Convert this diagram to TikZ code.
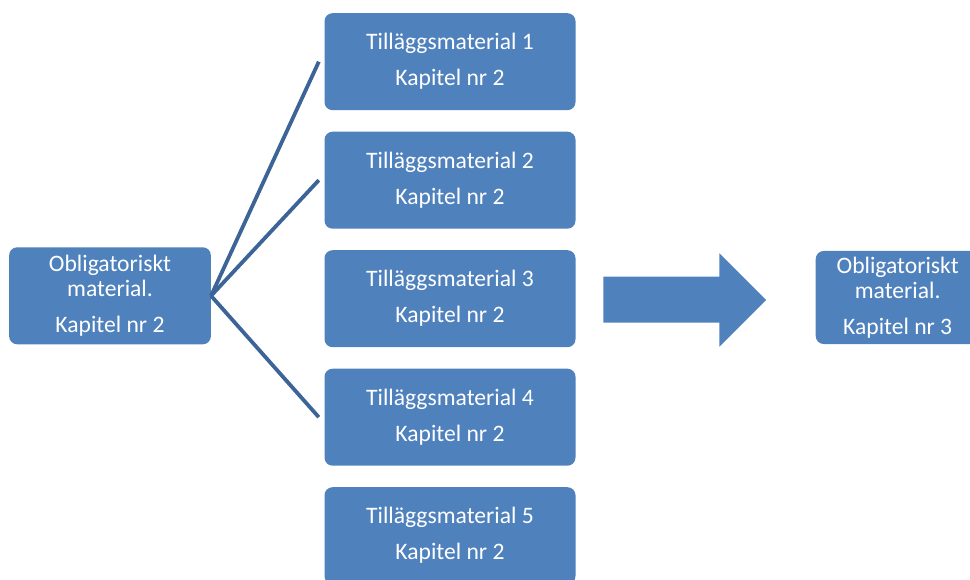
\documentclass[tikz,border=0pt]{standalone}
\usepackage{fontspec}
\setmainfont{Carlito}
\definecolor{boxblue}{RGB}{79,129,189}
\definecolor{linkblue}{RGB}{60,100,150}
\tikzset{
  matbox/.style={fill=boxblue,rounded corners=8pt,inner sep=0pt,text=white,align=center,
    font=\fontsize{23.6}{36}\selectfont,execute at begin node={\rule{0pt}{19.5pt}}},
  tillbox/.style={matbox,minimum width=251pt,minimum height=97pt},
  link/.style={draw=linkblue,line width=3.8pt}
}

\begin{document}
\begin{tikzpicture}[line join=miter,x=1pt,y=-1pt]
		\clip (0,0) rectangle (970,580);
		\node[matbox,minimum width=201.7pt,minimum height=97pt] (oblig2) at (110,295.8) {Obligatoriskt\\[-11pt]material.\\Kapitel nr 2};
		\node[tillbox] (till1) at (450,61.7) {Tilläggsmaterial 1\\Kapitel nr 2};
		\node[tillbox] (till2) at (450,180.2) {Tilläggsmaterial 2\\Kapitel nr 2};
		\node[tillbox] (till3) at (450,298.7) {Tilläggsmaterial 3\\Kapitel nr 2};
		\node[tillbox] (till4) at (450,417.2) {Tilläggsmaterial 4\\Kapitel nr 2};
		\node[tillbox] (till5) at (450,535.7) {Tilläggsmaterial 5\\Kapitel nr 2};
		\node[matbox,minimum width=164pt,minimum height=93pt] (oblig3) at (897.7,297.5) {Obligatoriskt\\[-11pt]material.\\Kapitel nr 3};
		% connectors end a little before the boxes
		\coordinate (e1) at ([xshift=-5.5pt]till1.west);
		\coordinate (e2) at ([xshift=-5.5pt]till2.west);
		\coordinate (e4) at ([xshift=-5.5pt]till4.west);
		\draw[link] (oblig2.east) -- (e1);
		\draw[link] (oblig2.east) -- (e2);
		\draw[link] (oblig2.east) -- (e4);
		% big arrow
		\fill[boxblue] (603.3,276.7) -- (719.3,276.7) -- (719.3,253.3) -- (766,300) -- (719.3,346.7) -- (719.3,322.7) -- (603.3,322.7) -- cycle;
	\end{tikzpicture}
\end{document}
